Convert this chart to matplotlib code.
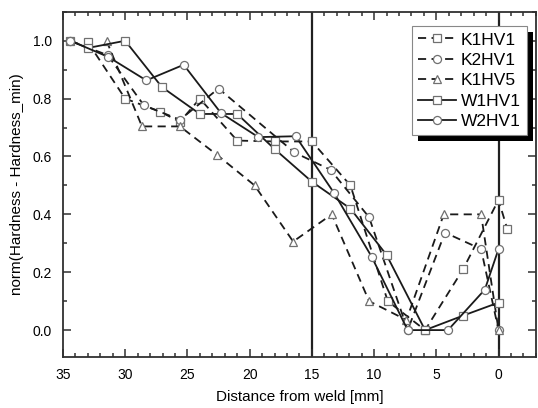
import numpy as np
import matplotlib.pyplot as plt
from matplotlib.ticker import MultipleLocator
from matplotlib.patches import Rectangle

plt.rcParams['font.family'] = ['Liberation Sans', 'DejaVu Sans']

k1hv1_x = [33.0, 30.0, 27.2, 25.6, 24.0, 21.0, 18.0, 15.0, 11.9, 8.9, 5.9, 2.85, 0.0, -0.7]
k1hv1_y = [0.995, 0.80, 0.755, 0.72, 0.80, 0.655, 0.652, 0.652, 0.50, 0.10, 0.0, 0.21, 0.45, 0.35]

k2hv1_x = [34.4, 31.4, 28.5, 25.6, 22.5, 16.4, 13.5, 10.4, 7.3, 4.3, 1.4, 0.0]
k2hv1_y = [1.0, 0.95, 0.777, 0.727, 0.835, 0.614, 0.554, 0.39, 0.0, 0.337, 0.28, 0.0]

k1hv5_x = [31.5, 28.65, 25.6, 22.6, 19.6, 16.5, 13.4, 10.4, 7.4, 4.4, 1.4, 0.0]
k1hv5_y = [1.0, 0.704, 0.704, 0.605, 0.50, 0.306, 0.40, 0.10, 0.035, 0.40, 0.40, 0.0]

w1hv1_x = [34.4, 33.0, 30.0, 27.05, 24.0, 21.0, 18.0, 15.0, 11.9, 9.0, 5.9, 2.85, 0.0]
w1hv1_y = [1.0, 0.975, 1.0, 0.84, 0.747, 0.747, 0.626, 0.513, 0.42, 0.26, 0.0, 0.05, 0.095]

w2hv1_x = [34.4, 31.35, 28.3, 25.3, 22.3, 19.3, 16.3, 13.2, 10.2, 7.3, 4.06, 1.1, 0.0]
w2hv1_y = [1.0, 0.944, 0.863, 0.917, 0.75, 0.667, 0.67, 0.473, 0.254, 0.0, 0.0, 0.14, 0.28]

marks = [15, 0]

fig = plt.figure(figsize=(5.38, 4.08), dpi=100)
ax = fig.add_axes([0.117, 0.125, 0.879, 0.846])

dash = (4.5, 3)
mk = dict(markersize=5.8, markerfacecolor="white", markeredgecolor="#707070", markeredgewidth=0.9)

for x in marks:
    ax.axvline(x, color="#202020", lw=1.6, zorder=1)

ax.plot(k1hv1_x, k1hv1_y, color="#1a1a1a", lw=1.3, dashes=dash, marker="s", label="K1HV1", **mk)
ax.plot(k2hv1_x, k2hv1_y, color="#1a1a1a", lw=1.3, dashes=dash, marker="o", label="K2HV1", **mk)
ax.plot(k1hv5_x, k1hv5_y, color="#1a1a1a", lw=1.3, dashes=dash, marker="^", label="K1HV5", **mk)
ax.plot(w1hv1_x, w1hv1_y, color="#1a1a1a", lw=1.3, marker="s", label="W1HV1", **mk)
ax.plot(w2hv1_x, w2hv1_y, color="#1a1a1a", lw=1.3, marker="o", label="W2HV1", **mk)

ax.set_xlim(35, -3)
ax.set_ylim(-0.093, 1.1)
ax.set_xticks([35, 30, 25, 20, 15, 10, 5, 0])
ax.set_yticks([0.0, 0.2, 0.4, 0.6, 0.8, 1.0])
ax.xaxis.set_minor_locator(MultipleLocator(1))
ax.yaxis.set_minor_locator(MultipleLocator(0.1))
ax.tick_params(which="both", direction="in", top=True, right=True, color="#303030", labelsize=10, width=1.1)
ax.tick_params(which="major", length=6, pad=8)
ax.tick_params(which="minor", length=3)
for s in ax.spines.values():
    s.set_linewidth(1.3)
    s.set_color("#303030")

ax.set_xlabel("Distance from weld [mm]", fontsize=11, labelpad=6)
ax.set_ylabel("norm(Hardness - Hardness_min)", fontsize=11, labelpad=6)

leg = ax.legend(loc="upper left", bbox_to_anchor=(0.738, 0.958), fontsize=12.5, handlelength=2.2,
                labelspacing=0.3, handletextpad=0.25, borderpad=0.35, borderaxespad=0,
                fancybox=False, framealpha=1)
leg.get_frame().set_edgecolor("#888888")
leg.get_frame().set_linewidth(0.8)
leg.set_zorder(6)

# thick black drop shadow behind the legend box
fig.canvas.draw()
bb = leg.get_window_extent().transformed(fig.transFigure.inverted())
off_x, off_y = 6 / 538, 6 / 408
ax.add_patch(Rectangle((bb.x0 + off_x, bb.y0 - off_y), bb.width, bb.height, transform=fig.transFigure,
                       facecolor="black", edgecolor="none", zorder=5.5, clip_on=False))

plt.savefig("out.png", dpi=100)
